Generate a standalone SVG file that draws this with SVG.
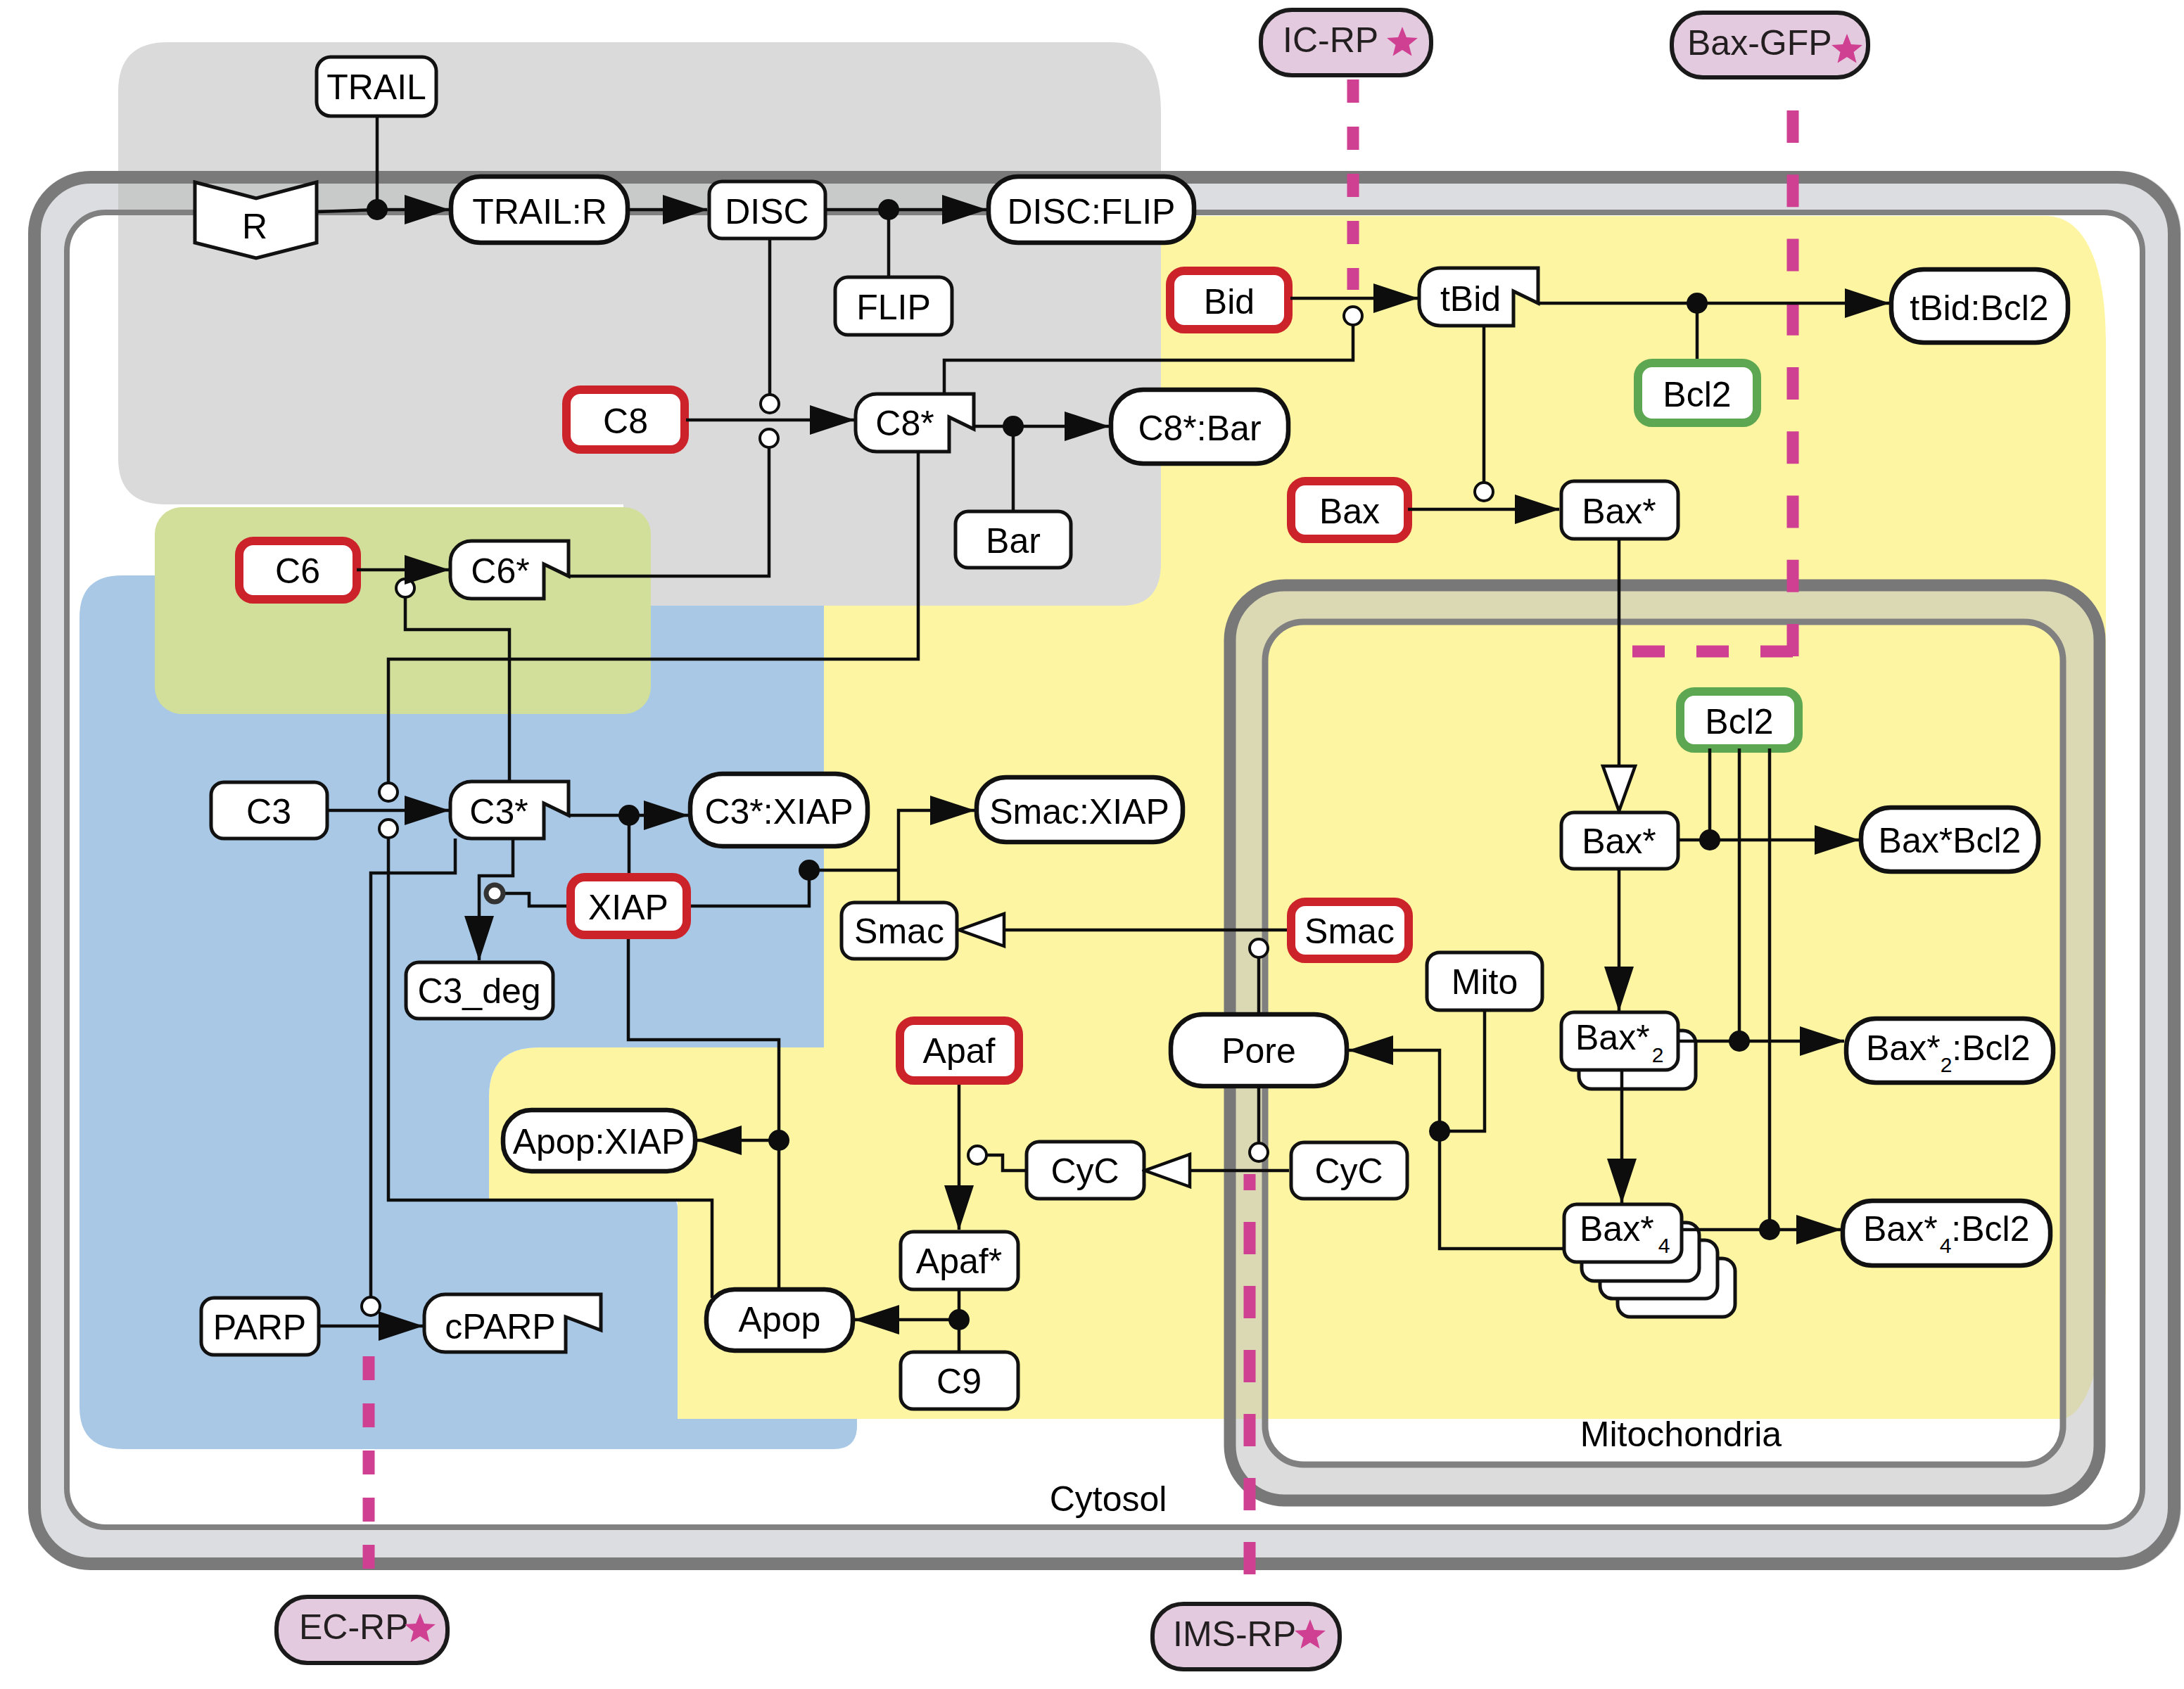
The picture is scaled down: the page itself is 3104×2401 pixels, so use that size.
<svg xmlns="http://www.w3.org/2000/svg" width="3104" height="2401" viewBox="0 0 3104 2401">
<defs>
<style>
.n{fill:#fff;stroke:#111;stroke-width:5}
.r{fill:#fff;stroke:#cc2229;stroke-width:12}
.g{fill:#fff;stroke:#5ea752;stroke-width:12}
.p{fill:#fff;stroke:#111;stroke-width:6.5}
.k{fill:#e4cadf;stroke:#1a1a1a;stroke-width:6}
.t{font-family:"Liberation Sans",Arial,sans-serif;font-size:50px;text-anchor:middle;fill:#000}
.s{font-family:"Liberation Sans",Arial,sans-serif;font-size:50px;fill:#000}
.kt{font-family:"Liberation Sans",Arial,sans-serif;font-size:50px;fill:#231f20}
.lab{font-family:"Liberation Sans",Arial,sans-serif;font-size:50px;text-anchor:middle;fill:#000}
.e{fill:none;stroke:#0d0d0d;stroke-width:4.5}
.oc{fill:#fff;stroke:#0d0d0d;stroke-width:4}
.dot{fill:#0d0d0d}
.pk{fill:none;stroke:#cf3f92;stroke-width:17}
</style>
<marker id="a" markerUnits="userSpaceOnUse" viewBox="0 0 64 44" markerWidth="64" markerHeight="44" refX="63" refY="22" orient="auto"><path d="M0,1 L64,22 L0,43 Z" fill="#0d0d0d"/></marker>
<marker id="o" markerUnits="userSpaceOnUse" viewBox="-4 -4 74 56" markerWidth="74" markerHeight="56" refX="65" refY="23" orient="auto"><path d="M2,0 L66,23 L2,46 Z" fill="#fff" stroke="#0d0d0d" stroke-width="4.5"/></marker>
<polygon id="star" points="0,-23 5.9,-8.1 21.9,-7.1 9.5,3.1 13.5,18.6 0,10 -13.5,18.6 -9.5,3.1 -21.9,-7.1 -5.9,-8.1" fill="#cf3f92"/>
</defs>

<g id="compartments">
<rect x="40" y="243" width="3060" height="1989" rx="88" fill="#dcdde0"/>
<rect x="95" y="302" width="2950" height="1869" rx="55" fill="#fff"/>
<path d="M1171,307 H2908 C2965,307 2993,380 2993,485 V1823 C2993,1930 2965,2017 2929,2017 H963 V1704 H695 V1559 Q695,1489 765,1489 H1171 Z" fill="#fdf5a1"/>
<path d="M173,818 H1171 V1489 H765 Q695,1489 695,1559 V1704 H950 Q963,1704 963,1717 V2017 H1218 V2027 Q1218,2060 1185,2060 H175 Q113,2060 113,2000 V878 Q113,818 173,818 Z" fill="#a9c8e6"/>
<path d="M238,60 H1580 Q1650,60 1650,160 V800 Q1650,861 1595,861 H886 V717 H236 Q168,717 168,652 V130 Q168,60 238,60 Z" fill="#dadada"/>
<rect x="168" y="255" width="1482" height="47" fill="#c8c9c9"/>
<rect x="220" y="721" width="705" height="294" rx="38" fill="#d2df9a"/>
<rect x="49" y="252" width="3041" height="1971" rx="80" fill="none" stroke="#7a7a7a" stroke-width="18"/>
<rect x="95" y="302" width="2950" height="1869" rx="55" fill="none" stroke="#808080" stroke-width="8"/>
<path fill-rule="evenodd" fill="#c3c3c3" fill-opacity="0.58" d="M1826,832 H2906 A78 78 0 0 1 2984,910 V2055 A78 78 0 0 1 2906,2133 H1826 A78 78 0 0 1 1748,2055 V910 A78 78 0 0 1 1826,832 Z M1853,884 H2877 A55 55 0 0 1 2932,939 V2027 A55 55 0 0 1 2877,2082 H1853 A55 55 0 0 1 1798,2027 V939 A55 55 0 0 1 1853,884 Z"/>
<rect x="1748" y="832" width="1236" height="1301" rx="78" fill="none" stroke="#787878" stroke-width="17"/>
<rect x="1798" y="884" width="1134" height="1198" rx="55" fill="none" stroke="#808080" stroke-width="9"/>
<text class="lab" x="1575" y="2148">Cytosol</text>
<text class="lab" x="2389" y="2056">Mitochondria</text>
</g>

<g id="reporter-lines">
<path class="pk" d="M1923,113 V412" stroke-dasharray="33 34"/>
<path class="pk" d="M2548,157 V934" stroke-dasharray="46 45.25"/>
<path class="pk" d="M2548,926 H2320" stroke-dasharray="46 45"/>
<path class="pk" d="M1776,1669 V2277" stroke-dasharray="46 45" stroke-dashoffset="23"/>
<path class="pk" d="M524,1928 V2232" stroke-dasharray="34 33"/>
</g>

<g id="nodes">
<g id="n-TRAIL"><rect class="n" x="450" y="81" width="170" height="84" rx="20"/><text class="t" x="535" y="141">TRAIL</text></g>
<g id="n-R"><path class="n" d="M277,259 L364,282 L450,259 V345 L364,367 L277,345 Z" stroke-width="4"/><text class="t" x="362" y="339">R</text></g>
<g id="n-TRAIL-R"><rect class="p" x="641" y="251" width="251" height="94" rx="42"/><text class="t" x="767" y="318">TRAIL:R</text></g>
<g id="n-DISC"><rect class="n" x="1008" y="258" width="165" height="81" rx="18"/><text class="t" x="1090" y="318">DISC</text></g>
<g id="n-DISC-FLIP"><rect class="p" x="1405" y="251" width="292" height="94" rx="42"/><text class="t" x="1551" y="318">DISC:FLIP</text></g>
<g id="n-FLIP"><rect class="n" x="1187" y="394" width="166" height="82" rx="18"/><text class="t" x="1270" y="454">FLIP</text></g>
<g id="n-C8"><rect class="r" x="805" y="554" width="168" height="85" rx="20"/><text class="t" x="889" y="616">C8</text></g>
<g id="n-C8s"><path class="n" d="M1246,560 H1384 V610 L1349,593 V642 H1246 A30 30 0 0 1 1216,612 V590 A30 30 0 0 1 1246,560 Z"/><text class="t" x="1286" y="619">C8*</text></g>
<g id="n-C8s-Bar"><rect class="p" x="1579" y="554" width="252" height="105" rx="46"/><text class="t" x="1705" y="626">C8*:Bar</text></g>
<g id="n-Bar"><rect class="n" x="1358" y="727" width="164" height="80" rx="18"/><text class="t" x="1440" y="786">Bar</text></g>
<g id="n-Bid"><rect class="r" x="1663" y="385" width="168" height="83" rx="20"/><text class="t" x="1747" y="446">Bid</text></g>
<g id="n-tBid"><path class="n" d="M2047,381 H2186 V431 L2151,414 V463 H2047 A30 30 0 0 1 2017,433 V411 A30 30 0 0 1 2047,381 Z"/><text class="t" x="2090" y="442">tBid</text></g>
<g id="n-tBid-Bcl2"><rect class="p" x="2688" y="383" width="251" height="104" rx="46"/><text class="t" x="2813" y="455">tBid:Bcl2</text></g>
<g id="n-Bcl2-cyto"><rect class="g" x="2328" y="516" width="169" height="85" rx="20"/><text class="t" x="2412" y="578">Bcl2</text></g>
<g id="n-Bax"><rect class="r" x="1835" y="684" width="166" height="82" rx="20"/><text class="t" x="1918" y="744">Bax</text></g>
<g id="n-Baxs-cyto"><rect class="n" x="2219" y="684" width="166" height="82" rx="18"/><text class="t" x="2301" y="744">Bax*</text></g>
<g id="n-C6"><rect class="r" x="340" y="769" width="167" height="83" rx="20"/><text class="t" x="423" y="829">C6</text></g>
<g id="n-C6s"><path class="n" d="M670,769 H808 V819 L773,802 V851 H670 A30 30 0 0 1 640,821 V799 A30 30 0 0 1 670,769 Z"/><text class="t" x="711" y="829">C6*</text></g>
<g id="n-C3"><rect class="n" x="300" y="1112" width="165" height="80" rx="18"/><text class="t" x="382" y="1171">C3</text></g>
<g id="n-C3s"><path class="n" d="M670,1111 H808 V1159 L773,1142 V1192 H670 A30 30 0 0 1 640,1162 V1141 A30 30 0 0 1 670,1111 Z"/><text class="t" x="709" y="1171">C3*</text></g>
<g id="n-C3s-XIAP"><rect class="p" x="981" y="1100" width="252" height="103" rx="46"/><text class="t" x="1107" y="1171">C3*:XIAP</text></g>
<g id="n-XIAP"><rect class="r" x="811" y="1247" width="165" height="82" rx="20"/><text class="t" x="893" y="1307">XIAP</text></g>
<g id="n-C3deg"><rect class="n" x="577" y="1368" width="209" height="80" rx="18"/><text class="t" x="681" y="1426">C3_deg</text></g>
<g id="n-Smac-XIAP"><rect class="p" x="1388" y="1105" width="293" height="92" rx="42"/><text class="t" x="1534" y="1171">Smac:XIAP</text></g>
<g id="n-Smac-cyto"><rect class="n" x="1196" y="1283" width="164" height="80" rx="18"/><text class="t" x="1278" y="1341">Smac</text></g>
<g id="n-Smac-mito"><rect class="r" x="1835" y="1282" width="167" height="81" rx="20"/><text class="t" x="1918" y="1341">Smac</text></g>
<g id="n-Apaf"><rect class="r" x="1279" y="1451" width="169" height="85" rx="20"/><text class="t" x="1363" y="1511">Apaf</text></g>
<g id="n-Apafs"><rect class="n" x="1280" y="1751" width="167" height="82" rx="18"/><text class="t" x="1363" y="1810">Apaf*</text></g>
<g id="n-C9"><rect class="n" x="1280" y="1922" width="167" height="81" rx="18"/><text class="t" x="1363" y="1981">C9</text></g>
<g id="n-CyC-cyto"><rect class="n" x="1459" y="1623" width="167" height="81" rx="18"/><text class="t" x="1542" y="1682">CyC</text></g>
<g id="n-CyC-mito"><rect class="n" x="1835" y="1624" width="165" height="80" rx="18"/><text class="t" x="1917" y="1682">CyC</text></g>
<g id="n-Pore"><rect class="p" x="1664" y="1442" width="250" height="102" rx="46"/><text class="t" x="1789" y="1511">Pore</text></g>
<g id="n-Mito"><rect class="n" x="2028" y="1354" width="164" height="82" rx="18"/><text class="t" x="2110" y="1413">Mito</text></g>
<g id="n-Apop"><rect class="p" x="1004" y="1833" width="208" height="87" rx="40"/><text class="t" x="1108" y="1893">Apop</text></g>
<g id="n-Apop-XIAP"><rect class="p" x="715" y="1578" width="273" height="87" rx="40"/><text class="t" x="851" y="1640">Apop:XIAP</text></g>
<g id="n-PARP"><rect class="n" x="286" y="1845" width="167" height="81" rx="18"/><text class="t" x="369" y="1904">PARP</text></g>
<g id="n-cPARP"><path class="n" d="M633,1840 H854 V1891 L804,1872 V1922 H633 A30 30 0 0 1 603,1892 V1870 A30 30 0 0 1 633,1840 Z"/><text class="t" x="711" y="1903">cPARP</text></g>
<g id="n-Bcl2-mito"><rect class="g" x="2388" y="983" width="168" height="81" rx="20"/><text class="t" x="2472" y="1043">Bcl2</text></g>
<g id="n-Baxs-mito"><rect class="n" x="2219" y="1155" width="166" height="80" rx="18"/><text class="t" x="2301" y="1213">Bax*</text></g>
<g id="n-Baxs-Bcl2"><rect class="p" x="2645" y="1148" width="252" height="91" rx="42"/><text class="t" x="2771" y="1212">Bax*Bcl2</text></g>
<g id="n-Baxs2"><rect class="n" x="2244" y="1465" width="166" height="83" rx="18"/><rect class="n" x="2219" y="1439" width="166" height="82" rx="18"/><text class="s" x="2239" y="1492">Bax*<tspan font-size="30" dx="3" dy="18">2</tspan></text></g>
<g id="n-Baxs2-Bcl2"><rect class="p" x="2624" y="1448" width="294" height="91" rx="42"/><text class="s" x="2652" y="1507">Bax*<tspan font-size="30" dy="17">2</tspan><tspan dy="-17">:Bcl2</tspan></text></g>
<g id="n-Baxs4"><rect class="n" x="2299" y="1789" width="167" height="83" rx="18"/><rect class="n" x="2274" y="1763" width="167" height="83" rx="18"/><rect class="n" x="2248" y="1738" width="167" height="83" rx="18"/><rect class="n" x="2223" y="1712" width="167" height="82" rx="18"/><text class="s" x="2245" y="1764">Bax*<tspan font-size="30" dx="6" dy="17">4</tspan></text></g>
<g id="n-Baxs4-Bcl2"><rect class="p" x="2619" y="1707" width="295" height="92" rx="42"/><text class="s" x="2648" y="1764">Bax*<tspan font-size="30" dx="3" dy="17">4</tspan><tspan dy="-17">:Bcl2</tspan></text></g>
<g id="n-IC-RP"><rect class="k" x="1792" y="14" width="242" height="93" rx="44"/><text class="kt" x="1823" y="74">IC-RP</text><use href="#star" x="1993" y="61"/></g>
<g id="n-Bax-GFP"><rect class="k" x="2376" y="18" width="279" height="92" rx="44"/><text class="kt" x="2398" y="78">Bax-GFP</text><use href="#star" x="2625" y="71"/></g>
<g id="n-EC-RP"><rect class="k" x="393" y="2270" width="243" height="94" rx="44"/><text class="kt" x="425" y="2330">EC-RP</text><use href="#star" x="597" y="2316"/></g>
<g id="n-IMS-RP"><rect class="k" x="1638" y="2280" width="266" height="93" rx="44"/><text class="kt" x="1667" y="2340">IMS-RP</text><use href="#star" x="1862" y="2325"/></g>
</g>

<g id="connectors">
<path class="e" d="M452,301 L536,298 H638" marker-end="url(#a)"/>
<path class="e" d="M536,167 V298"/>
<circle class="dot" cx="536" cy="298" r="15"/>
<path class="e" d="M892,298 H1005" marker-end="url(#a)"/>
<path class="e" d="M1173,298 H1402" marker-end="url(#a)"/>
<path class="e" d="M1263,392 V298"/>
<circle class="dot" cx="1263" cy="298" r="15"/>
<path class="e" d="M1094,341 V561"/>
<circle class="oc" cx="1094" cy="574" r="13"/>
<path class="e" d="M975,597 H1214" marker-end="url(#a)"/>
<path class="e" d="M808,819 H1093 V636"/>
<circle class="oc" cx="1093" cy="623" r="13"/>
<path class="e" d="M1384,606 H1576" marker-end="url(#a)"/>
<path class="e" d="M1440,725 V606"/>
<circle class="dot" cx="1440" cy="606" r="15"/>
<path class="e" d="M1342,560 V512 H1923 V462"/>
<circle class="oc" cx="1923" cy="449" r="13"/>
<path class="e" d="M1834,424 H2015" marker-end="url(#a)"/>
<path class="e" d="M1305,642 V937 H552 V1113"/>
<circle class="oc" cx="552" cy="1126" r="13"/>
<path class="e" d="M465,1152 H638" marker-end="url(#a)"/>
<circle class="oc" cx="552" cy="1178" r="13"/>
<path class="e" d="M724,1111 V895 H576 V849"/>
<circle class="oc" cx="576" cy="836" r="13"/>
<path class="e" d="M507,810 H638" marker-end="url(#a)"/>
<path class="e" d="M552,1191 V1706 H1012 V1845"/>
<path class="e" d="M647,1192 V1241 H527 V1844"/>
<circle class="oc" cx="527" cy="1857" r="13"/>
<path class="e" d="M453,1885 H601" marker-end="url(#a)"/>
<path class="e" d="M808,1159 H978" marker-end="url(#a)"/>
<path class="e" d="M894,1241 V1159"/>
<circle class="dot" cx="894" cy="1159" r="15"/>
<path class="e" d="M729,1192 V1245 H681 V1365" marker-end="url(#a)"/>
<path class="e" d="M805,1288 H752 V1270 H716"/>
<circle cx="703" cy="1270" r="12" fill="#fff" stroke="#333" stroke-width="7"/>
<path class="e" d="M893,1335 V1478 H1107 V1833"/>
<path class="e" d="M1107,1621 H991" marker-end="url(#a)"/>
<circle class="dot" cx="1107" cy="1621" r="15"/>
<path class="e" d="M982,1288 H1150 V1237 H1277"/>
<path class="e" d="M1277,1283 V1152 H1385" marker-end="url(#a)"/>
<circle class="dot" cx="1150" cy="1237" r="15"/>
<path class="e" d="M1829,1322 H1364" marker-end="url(#o)"/>
<path class="e" d="M1789,1442 V1361"/>
<circle class="oc" cx="1789" cy="1348" r="13"/>
<path class="e" d="M1832,1664 H1628" marker-end="url(#o)"/>
<path class="e" d="M1789,1544 V1625"/>
<circle class="oc" cx="1789" cy="1638" r="13"/>
<path class="e" d="M1363,1542 V1748" marker-end="url(#a)"/>
<path class="e" d="M1459,1664 H1425 V1642 H1403"/>
<circle class="oc" cx="1389" cy="1642" r="13"/>
<path class="e" d="M1363,1833 V1922"/>
<path class="e" d="M1363,1876 H1215" marker-end="url(#a)"/>
<circle class="dot" cx="1363" cy="1876" r="15"/>
<path class="e" d="M2223,1775 H2046 V1493 H1917" marker-end="url(#a)"/>
<path class="e" d="M2110,1436 V1608 H2046"/>
<circle class="dot" cx="2046" cy="1608" r="15"/>
<path class="e" d="M2001,724 H2216" marker-end="url(#a)"/>
<path class="e" d="M2109,463 V686"/>
<circle class="oc" cx="2109" cy="699" r="13"/>
<path class="e" d="M2186,431 H2685" marker-end="url(#a)"/>
<path class="e" d="M2412,510 V431"/>
<circle class="dot" cx="2412" cy="431" r="15"/>
<path class="e" d="M2301,766 V1152" marker-end="url(#o)"/>
<path class="e" d="M2385,1194 H2642" marker-end="url(#a)"/>
<path class="e" d="M2430,1064 V1194"/>
<circle class="dot" cx="2430" cy="1194" r="15"/>
<path class="e" d="M2301,1235 V1437" marker-end="url(#a)"/>
<path class="e" d="M2387,1480 H2621" marker-end="url(#a)"/>
<path class="e" d="M2472,1064 V1480"/>
<circle class="dot" cx="2472" cy="1480" r="15"/>
<path class="e" d="M2305,1521 V1710" marker-end="url(#a)"/>
<path class="e" d="M2392,1748 H2616" marker-end="url(#a)"/>
<path class="e" d="M2515,1064 V1748"/>
<circle class="dot" cx="2515" cy="1748" r="15"/>
</g>
</svg>
